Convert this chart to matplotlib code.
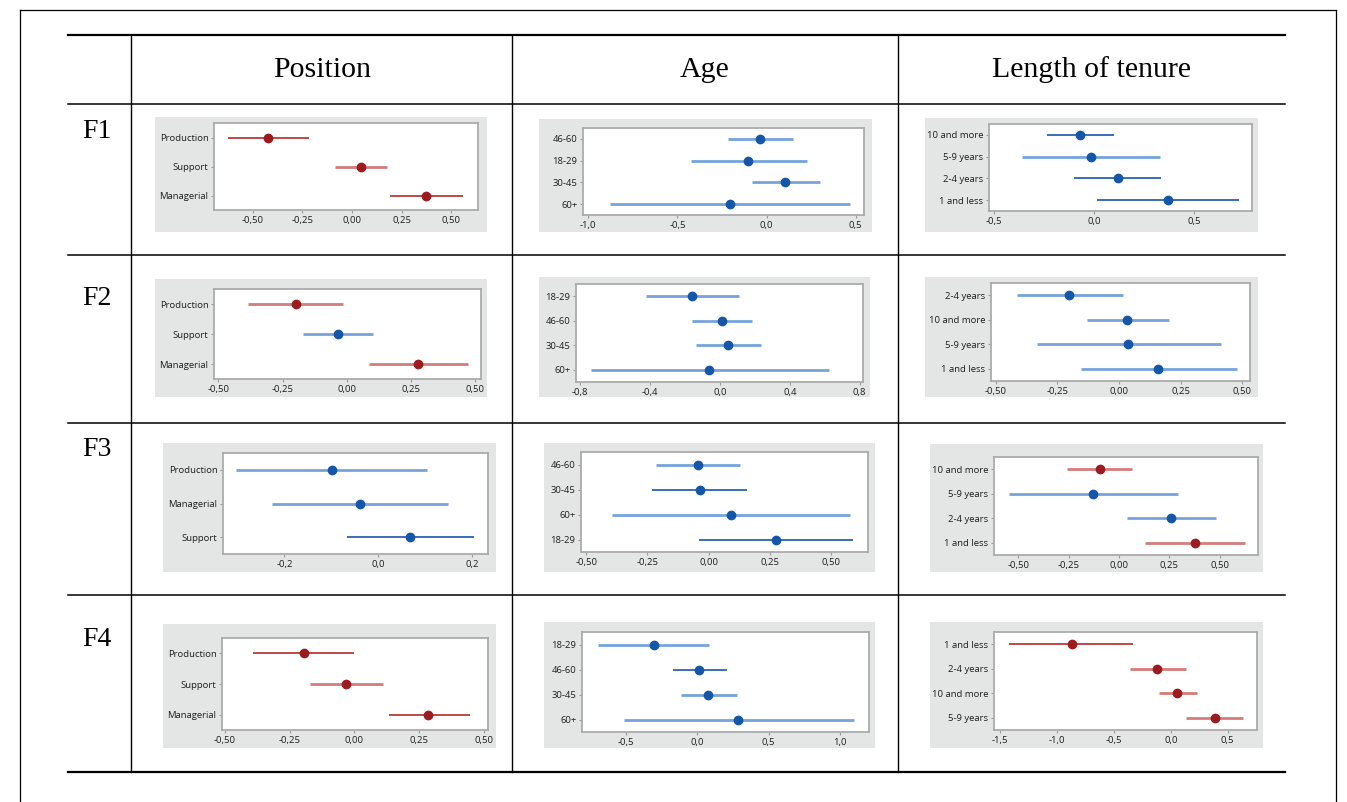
import matplotlib.pyplot as plt
from matplotlib.patches import Rectangle
from matplotlib.lines import Line2D
from matplotlib.ticker import FuncFormatter

# ---- data ----
col_titles = ['Position', 'Age', 'Length of tenure']
row_titles = ['F1', 'F2', 'F3', 'F4']

# F1
f1_pos_cats = ['Production', 'Support', 'Managerial']
f1_pos_mean = [-0.424, 0.047, 0.375]
f1_pos_lo = [-0.625, -0.084, 0.193]
f1_pos_hi = [-0.217, 0.176, 0.560]
f1_pos_sig = [1, 1, 1]

f1_age_cats = ['46-60', '18-29', '30-45', '60+']
f1_age_mean = [-0.037, -0.103, 0.104, -0.205]
f1_age_lo = [-0.215, -0.425, -0.082, -0.881]
f1_age_hi = [0.149, 0.228, 0.298, 0.470]
f1_age_sig = [0, 0, 0, 0]

f1_ten_cats = ['10 and more', '5-9 years', '2-4 years', '1 and less']
f1_ten_mean = [-0.070, -0.017, 0.120, 0.366]
f1_ten_lo = [-0.236, -0.361, -0.098, 0.013]
f1_ten_hi = [0.100, 0.326, 0.334, 0.720]
f1_ten_sig = [0, 0, 0, 0]

# F2
f2_pos_cats = ['Production', 'Support', 'Managerial']
f2_pos_mean = [-0.199, -0.035, 0.275]
f2_pos_lo = [-0.383, -0.169, 0.086]
f2_pos_hi = [-0.016, 0.101, 0.471]
f2_pos_sig = [1, 0, 1]

f2_age_cats = ['18-29', '46-60', '30-45', '60+']
f2_age_mean = [-0.158, 0.010, 0.048, -0.061]
f2_age_lo = [-0.423, -0.162, -0.139, -0.737]
f2_age_hi = [0.109, 0.185, 0.238, 0.625]
f2_age_sig = [0, 0, 0, 0]

f2_ten_cats = ['2-4 years', '10 and more', '5-9 years', '1 and less']
f2_ten_mean = [-0.202, 0.034, 0.038, 0.160]
f2_ten_lo = [-0.413, -0.131, -0.334, -0.156]
f2_ten_hi = [0.015, 0.203, 0.413, 0.480]
f2_ten_sig = [0, 0, 0, 0]

# F3
f3_pos_cats = ['Production', 'Managerial', 'Support']
f3_pos_mean = [-0.098, -0.039, 0.067]
f3_pos_lo = [-0.303, -0.227, -0.067]
f3_pos_hi = [0.105, 0.149, 0.204]
f3_pos_sig = [0, 0, 0]

f3_age_cats = ['46-60', '30-45', '60+', '18-29']
f3_age_mean = [-0.043, -0.037, 0.090, 0.273]
f3_age_lo = [-0.217, -0.231, -0.396, -0.039]
f3_age_hi = [0.129, 0.157, 0.574, 0.588]
f3_age_sig = [0, 0, 0, 0]

f3_ten_cats = ['10 and more', '5-9 years', '2-4 years', '1 and less']
f3_ten_mean = [-0.094, -0.127, 0.258, 0.377]
f3_ten_lo = [-0.256, -0.545, 0.038, 0.129]
f3_ten_hi = [0.063, 0.294, 0.484, 0.628]
f3_ten_sig = [1, 0, 0, 1]

# F4
f4_pos_cats = ['Production', 'Support', 'Managerial']
f4_pos_mean = [-0.195, -0.032, 0.286]
f4_pos_lo = [-0.391, -0.172, 0.135]
f4_pos_hi = [0.000, 0.110, 0.445]
f4_pos_sig = [1, 1, 1]

f4_age_cats = ['18-29', '46-60', '30-45', '60+']
f4_age_mean = [-0.308, 0.014, 0.077, 0.287]
f4_age_lo = [-0.699, -0.168, -0.117, -0.519]
f4_age_hi = [0.082, 0.206, 0.276, 1.098]
f4_age_sig = [0, 0, 0, 0]

f4_ten_cats = ['1 and less', '2-4 years', '10 and more', '5-9 years']
f4_ten_mean = [-0.871, -0.117, 0.058, 0.386]
f4_ten_lo = [-1.418, -0.360, -0.102, 0.137]
f4_ten_hi = [-0.330, 0.129, 0.234, 0.635]
f4_ten_sig = [1, 1, 1, 1]

# x ticks per panel
ticks_q = [-0.5, -0.25, 0.0, 0.25, 0.5]
f1_age_ticks = [-1.0, -0.5, 0.0, 0.5]
f1_ten_ticks = [-0.5, 0.0, 0.5]
f2_age_ticks = [-0.8, -0.4, 0.0, 0.4, 0.8]
f3_pos_ticks = [-0.2, 0.0, 0.2]
f4_age_ticks = [-0.5, 0.0, 0.5, 1.0]
f4_ten_ticks = [-1.5, -1.0, -0.5, 0.0, 0.5]

# ---- layout / style ----
W, H = 1347, 802
RED_DOT, BLUE_DOT = '#9b1b1f', '#1456a8'
RED_LINE = {'L': ('#d47c7c', 2.0), 'D': ('#b83a38', 1.3)}
BLUE_LINE = {'L': ('#76a3dc', 2.0), 'D': ('#2b62b3', 1.3)}

# (data, ticks, decimals, xlim, grey box px, axes box px, line shade)
panels = [
    [(f1_pos_cats, f1_pos_mean, f1_pos_lo, f1_pos_hi, f1_pos_sig), ticks_q, 2, (-0.696, 0.635),
     (155, 117, 487, 232), (214, 123, 478, 210), 'DLD'],
    [(f1_age_cats, f1_age_mean, f1_age_lo, f1_age_hi, f1_age_sig), f1_age_ticks, 1, (-1.03, 0.547),
     (539, 119, 872, 232), (583, 128, 864, 215), 'LLLL'],
    [(f1_ten_cats, f1_ten_mean, f1_ten_lo, f1_ten_hi, f1_ten_sig), f1_ten_ticks, 1, (-0.524, 0.787),
     (925, 118, 1258, 232), (989, 124, 1252, 211), 'DLDD'],
    [(f2_pos_cats, f2_pos_mean, f2_pos_lo, f2_pos_hi, f2_pos_sig), ticks_q, 2, (-0.517, 0.522),
     (155, 279, 487, 397), (214, 289, 481, 379), 'LLL'],
    [(f2_age_cats, f2_age_mean, f2_age_lo, f2_age_hi, f2_age_sig), f2_age_ticks, 1, (-0.823, 0.819),
     (539, 277, 870, 397), (576, 284, 863, 382), 'LLLL'],
    [(f2_ten_cats, f2_ten_mean, f2_ten_lo, f2_ten_hi, f2_ten_sig), ticks_q, 2, (-0.52, 0.532),
     (925, 277, 1258, 397), (991, 283, 1250, 381), 'LLLL'],
    [(f3_pos_cats, f3_pos_mean, f3_pos_lo, f3_pos_hi, f3_pos_sig), f3_pos_ticks, 1, (-0.331, 0.234),
     (163, 443, 496, 572), (223, 453, 488, 554), 'LLD'],
    [(f3_age_cats, f3_age_mean, f3_age_lo, f3_age_hi, f3_age_sig), ticks_q, 2, (-0.521, 0.649),
     (544, 443, 875, 572), (581, 452, 868, 552), 'LDLD'],
    [(f3_ten_cats, f3_ten_mean, f3_ten_lo, f3_ten_hi, f3_ten_sig), ticks_q, 2, (-0.62, 0.691),
     (930, 444, 1263, 572), (994, 457, 1258, 555), 'LLLL'],
    [(f4_pos_cats, f4_pos_mean, f4_pos_lo, f4_pos_hi, f4_pos_sig), ticks_q, 2, (-0.511, 0.516),
     (163, 624, 496, 748), (222, 638, 488, 730), 'DLD'],
    [(f4_age_cats, f4_age_mean, f4_age_lo, f4_age_hi, f4_age_sig), f4_age_ticks, 1, (-0.811, 1.206),
     (544, 622, 875, 748), (582, 632, 869, 732), 'LDLL'],
    [(f4_ten_cats, f4_ten_mean, f4_ten_lo, f4_ten_hi, f4_ten_sig), f4_ten_ticks, 1, (-1.553, 0.757),
     (930, 622, 1263, 748), (994, 632, 1257, 730), 'DLLL'],
]


def rect(box):
    x0, y0, x1, y1 = box
    return [x0 / W, 1 - y1 / H, (x1 - x0) / W, (y1 - y0) / H]


def comma_fmt(dec):
    def f(v, pos):
        v = round(v, dec) + 0.0
        return f'{v:.{dec}f}'.replace('.', ',')
    return FuncFormatter(f)


fig = plt.figure(figsize=(W / 100, H / 100), dpi=100)
fig.patch.set_facecolor('white')


def hline(y, x0, x1, lw):
    fig.add_artist(Line2D([x0 / W, x1 / W], [1 - y / H, 1 - y / H], color='black', lw=lw))


def vline(x, y0, y1, lw):
    fig.add_artist(Line2D([x / W, x / W], [1 - y0 / H, 1 - y1 / H], color='black', lw=lw))


# outer frame
hline(10, 20, 1336, 0.9)
vline(20, 10, 802, 0.9)
vline(1336, 10, 802, 0.9)

# table grid
hline(35, 68, 1285, 1.6)
for y in [104, 255, 423, 595]:
    hline(y, 68, 1285, 1.1)
hline(772, 68, 1285, 1.6)
for x in [131, 512, 898]:
    vline(x, 35, 772, 1.0)

serif = 'Liberation Serif'
for x, t in zip([322, 705, 1091], col_titles):
    fig.text(x / W, 1 - 70 / H, t, ha='center', va='center', fontsize=21.5, family=serif)
for y, t in zip([132, 298, 450, 640], row_titles):
    fig.text(97 / W, 1 - y / H, t, ha='center', va='center', fontsize=20, family=serif)

for (cats, mean, lo, hi, sig), ticks, dec, xlim, grey, box, shade in panels:
    fig.add_artist(Rectangle((grey[0] / W, 1 - grey[3] / H), (grey[2] - grey[0]) / W,
                             (grey[3] - grey[1]) / H, transform=fig.transFigure,
                             facecolor='#e4e5e5', edgecolor='none', zorder=0))
    ax = fig.add_axes(rect(box))
    ax.set_facecolor('white')
    n = len(cats)
    for i in range(n):
        if sig[i]:
            lc, lw = RED_LINE[shade[i]]
            dc = RED_DOT
        else:
            lc, lw = BLUE_LINE[shade[i]]
            dc = BLUE_DOT
        ax.plot([lo[i], hi[i]], [i, i], color=lc, lw=lw, solid_capstyle='butt', zorder=2)
        ax.plot(mean[i], i, 'o', color=dc, markersize=6, zorder=3)
    ax.set_ylim(n - 0.5, -0.5)
    ax.set_xlim(*xlim)
    ax.set_yticks(range(n))
    ax.set_yticklabels(cats)
    ax.set_xticks(ticks)
    ax.xaxis.set_major_formatter(comma_fmt(dec))
    for s in ax.spines.values():
        s.set_color('#ababab')
        s.set_linewidth(1.3)
    ax.tick_params(labelsize=6.8, colors='#9a9a9a', labelcolor='#1e1e1e', length=2.5,
                   width=0.8, pad=1.5)
    for lab in ax.get_xticklabels() + ax.get_yticklabels():
        lab.set_family('Open Sans')

fig.savefig('out.png', dpi=100)
